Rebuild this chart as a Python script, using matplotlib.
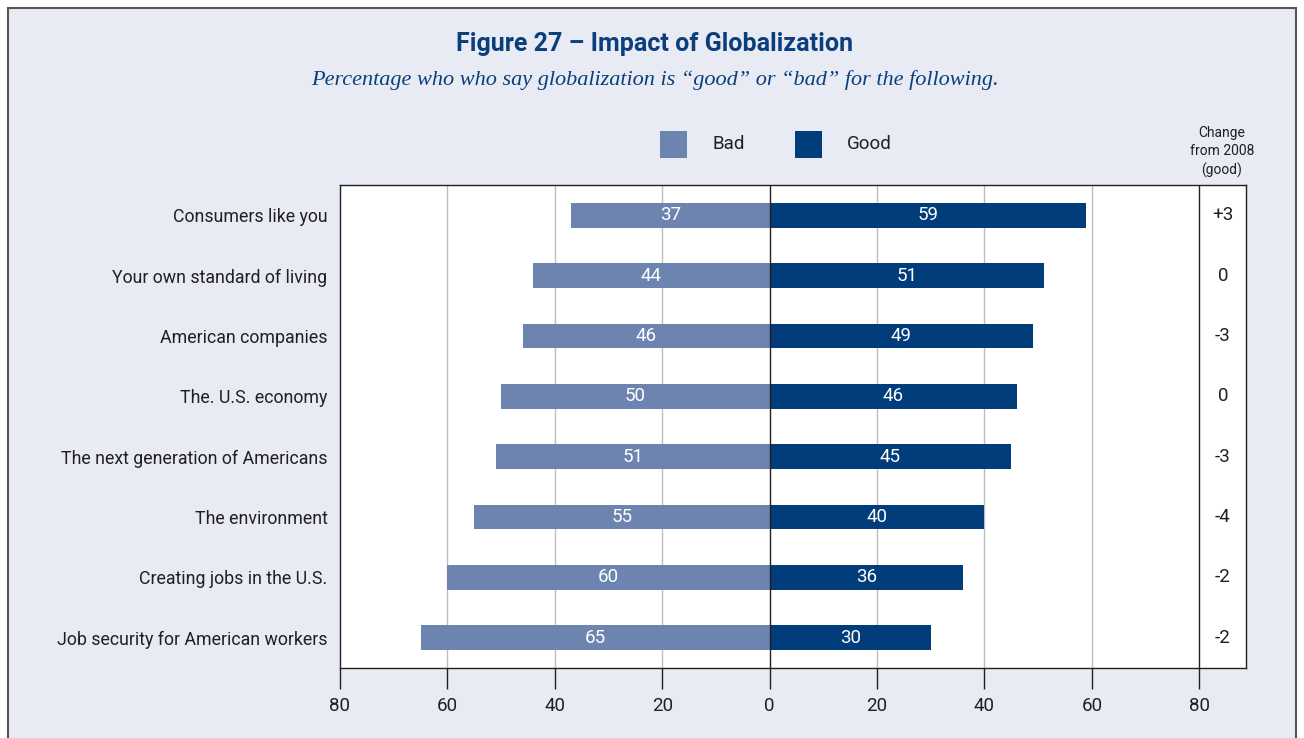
import matplotlib.pyplot as plt
import matplotlib.patches as patches

categories = ['Consumers like you', 'Your own standard of living', 'American companies',
              'The. U.S. economy', 'The next generation of Americans', 'The environment',
              'Creating jobs in the U.S.', 'Job security for American workers']
bad = [37, 44, 46, 50, 51, 55, 60, 65]
good = [59, 51, 49, 46, 45, 40, 36, 30]
change = ['+3', '0', '-3', '0', '-3', '-4', '-2', '-2']
xticks = [-80, -60, -40, -20, 0, 20, 40, 60, 80]

BG = '#e8ebf3'
C_BAD = '#6e84b0'
C_GOOD = '#003d7a'
NAVY = '#0b3f7c'
TXT = '#231f20'
FONT = ['Roboto', 'DejaVu Sans']

plt.rcParams['font.family'] = FONT

fig = plt.figure(figsize=(13.04, 7.38), dpi=100)
fig.patch.set_facecolor('white')

# panel background with border
fig.patches.append(patches.Rectangle((8 / 1304, -0.05), 1288 / 1304, 1 - 8 / 738 + 0.05,
                                     transform=fig.transFigure, facecolor=BG,
                                     edgecolor='#555555', linewidth=1.5, zorder=-10))

ax = fig.add_axes([340 / 1304, 70 / 738, 906 / 1304, 483 / 738])
ax.set_facecolor('white')

y = list(range(len(categories)))
ax.barh(y, [-b for b in bad], height=0.41, color=C_BAD, zorder=3)
ax.barh(y, good, height=0.41, color=C_GOOD, zorder=3)

for i in y:
    ax.text(-bad[i] / 2, i, str(bad[i]), ha='center', va='center', color='white',
            fontsize=13.5, zorder=4)
    ax.text(good[i] / 2, i, str(good[i]), ha='center', va='center', color='white',
            fontsize=13.5, zorder=4)
    ax.text(84.4, i, change[i], ha='center', va='center', color=TXT, fontsize=13.5)

ax.set_xlim(-80, 88.7)
ax.set_ylim(len(categories) - 0.5, -0.5)

for t in [-60, -40, -20, 20, 40, 60]:
    ax.axvline(t, color='#bdbdbd', linewidth=1, zorder=1)
ax.axvline(0, color='#231f20', linewidth=1, zorder=5)
ax.axvline(80, color='#231f20', linewidth=1, zorder=5)

ax.set_yticks(y)
ax.set_yticklabels(categories, fontsize=12.8, color=TXT)
ax.tick_params(axis='y', length=0, pad=9)
ax.set_xticks(xticks)
ax.set_xticklabels([str(abs(t)) for t in xticks], fontsize=13.5, color=TXT)
ax.tick_params(axis='x', length=15, width=1, color='#231f20', pad=6)
for s in ax.spines.values():
    s.set_color('#231f20')
    s.set_linewidth(1)

# titles
fig.text(655 / 1304, 1 - 44 / 738, 'Figure 27 – Impact of Globalization', ha='center',
         va='center', fontsize=18, fontweight='bold', color=NAVY, family=FONT)
fig.text(655 / 1304, 1 - 80 / 738,
         'Percentage who who say globalization is \u201cgood\u201d or \u201cbad\u201d for the following.',
         ha='center', va='center', fontsize=16, style='italic', color=NAVY,
         family=['Liberation Serif', 'DejaVu Serif'])

# legend
for x0, lab, col in [(660, 'Bad', C_BAD), (795, 'Good', C_GOOD)]:
    fig.patches.append(patches.Rectangle((x0 / 1304, 1 - 158 / 738), 27 / 1304, 27 / 738,
                                         transform=fig.transFigure, facecolor=col,
                                         edgecolor='none'))
    fig.text((x0 + 52) / 1304, 1 - 144 / 738, lab, ha='left', va='center',
             fontsize=13.5, color=TXT)

fig.text(1222 / 1304, 1 - 152 / 738, 'Change\nfrom 2008\n(good)', ha='center',
         va='center', fontsize=10, color=TXT, linespacing=1.35)

fig.savefig('out.png', dpi=100, facecolor=fig.get_facecolor())
